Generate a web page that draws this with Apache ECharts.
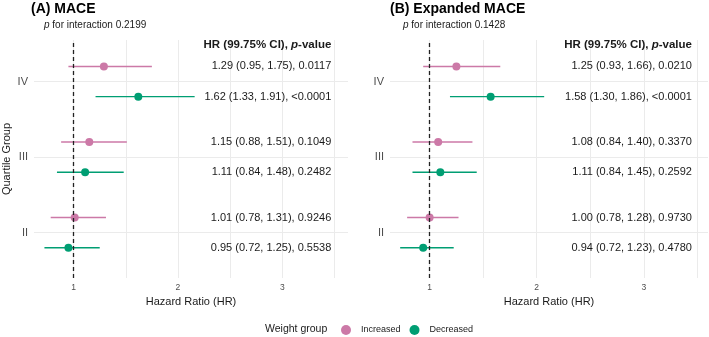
<!DOCTYPE html>
<html>
<head>
<meta charset="utf-8">
<script src="https://cdn.jsdelivr.net/npm/echarts@6/dist/echarts.min.js"></script>
<style>
html, body { margin: 0; padding: 0; background: #fff; }
#main { width: 709px; height: 337px; }
</style>
</head>
<body>
<div id="main"></div>
<script>
// quartile groups on the y axis, II at the bottom
var quartiles = ['II', 'III', 'IV'];
var quartilePos = [1, 2, 3];
var groups = ['Increased', 'Decreased'];

// (A) MACE  -- HR / plotted interval / printed text
var maceIncHR = [1.01, 1.15, 1.29];
var maceIncLo = [0.78, 0.88, 0.95];
var maceIncHi = [1.31, 1.51, 1.75];
var maceIncText = ['1.01 (0.78, 1.31), 0.9246', '1.15 (0.88, 1.51), 0.1049', '1.29 (0.95, 1.75), 0.0117'];
var maceDecHR = [0.95, 1.11, 1.62];
var maceDecLo = [0.72, 0.84, 1.21];
var maceDecHi = [1.25, 1.48, 2.16];
var maceDecText = ['0.95 (0.72, 1.25), 0.5538', '1.11 (0.84, 1.48), 0.2482', '1.62 (1.33, 1.91), <0.0001'];

// (B) Expanded MACE
var expIncHR = [1.00, 1.08, 1.25];
var expIncLo = [0.79, 0.84, 0.94];
var expIncHi = [1.27, 1.40, 1.66];
var expIncText = ['1.00 (0.78, 1.28), 0.9730', '1.08 (0.84, 1.40), 0.3370', '1.25 (0.93, 1.66), 0.0210'];
var expDecHR = [0.94, 1.10, 1.57];
var expDecLo = [0.725, 0.84, 1.19];
var expDecHi = [1.225, 1.44, 2.07];
var expDecText = ['0.94 (0.72, 1.23), 0.4780', '1.11 (0.84, 1.45), 0.2592', '1.58 (1.30, 1.86), <0.0001'];

var xLabelValues = [1, 2, 3];
var xGridValues = [1, 1.5, 2, 2.5, 3, 3.5];

var colors = { Increased: '#CC79A7', Decreased: '#009E73' };
var dodge = { Increased: 0.2, Decreased: -0.2 };
var FONT = '"Liberation Sans", Arial, sans-serif';

var chart = echarts.init(document.getElementById('main'));

function errRender(params, api) {
    var y = api.value(0);
    var a = api.coord([api.value(1), y]);
    var b = api.coord([api.value(2), y]);
    return {
        type: 'line',
        shape: { x1: a[0], y1: a[1], x2: b[0], y2: b[1] },
        style: { stroke: api.visual('color'), lineWidth: 1.4 }
    };
}

// one panel = errorbars + points + printed text for both groups
function panelSeries(idx, sets, textX) {
    var out = [];
    sets.forEach(function (s) {
        var off = dodge[s.group];
        out.push({
            type: 'custom', name: s.group, xAxisIndex: idx, yAxisIndex: idx,
            itemStyle: { color: colors[s.group] },
            renderItem: errRender,
            encode: { x: [1, 2], y: 0 },
            data: quartilePos.map(function (q, i) { return [q + off, s.lo[i], s.hi[i]]; }),
            silent: true, z: 2
        });
        out.push({
            type: 'scatter', name: s.group, xAxisIndex: idx, yAxisIndex: idx,
            symbol: 'circle', symbolSize: 8,
            itemStyle: { color: colors[s.group], opacity: 1 },
            data: quartilePos.map(function (q, i) { return [s.hr[i], q + off]; }),
            z: 3
        });
        out.push({
            type: 'custom', xAxisIndex: idx, yAxisIndex: idx,
            renderItem: function (params, api) {
                var p = api.coord([textX, api.value(1)]);
                return {
                    type: 'text', x: p[0], y: p[1],
                    style: {
                        text: s.text[params.dataIndex], align: 'right', verticalAlign: 'middle',
                        fill: '#1a1a1a', fontSize: 11, fontFamily: FONT
                    }
                };
            },
            data: quartilePos.map(function (q) { return [textX, q + off]; }),
            silent: true, z: 4
        });
    });
    // header above the text column
    out.push({
        type: 'custom', xAxisIndex: idx, yAxisIndex: idx,
        renderItem: function (params, api) {
            var p = api.coord([api.value(0), api.value(1)]);
            return {
                type: 'text', x: p[0], y: p[1],
                style: {
                    text: 'HR (99.75% CI), {i|p}-value', align: 'right', verticalAlign: 'middle',
                    fill: '#1a1a1a', fontSize: 11.5, fontWeight: 'bold', fontFamily: FONT,
                    rich: { i: { fontStyle: 'italic', fontWeight: 'bold', fontSize: 11.5, fontFamily: FONT, fill: '#1a1a1a' } }
                }
            };
        },
        data: [[textX, 3.49]],
        silent: true, z: 4
    });
    // reference line at HR = 1
    out.push({
        type: 'scatter', xAxisIndex: idx, yAxisIndex: idx, data: [], silent: true,
        markLine: {
            silent: true, symbol: ['none', 'none'], label: { show: false },
            lineStyle: { color: '#222', type: [4, 3], width: 1.3 },
            data: [{ xAxis: 1 }]
        },
        z: 1
    });
    return out;
}

function xAxisOf(idx, min, max) {
    return {
        gridIndex: idx, type: 'value', min: min, max: max,
        axisLine: { show: false },
        axisTick: { show: false, customValues: xGridValues },
        axisLabel: { customValues: xLabelValues, color: '#4d4d4d', fontSize: 8.5, margin: 5, fontFamily: FONT },
        splitLine: { show: true, lineStyle: { color: '#ebebeb', width: 1 } },
        name: 'Hazard Ratio (HR)', nameLocation: 'middle', nameGap: 15,
        nameTextStyle: { color: '#1a1a1a', fontSize: 11, fontFamily: FONT }
    };
}

function yAxisOf(idx, name) {
    return {
        gridIndex: idx, type: 'value', min: 0.4, max: 3.55,
        axisLine: { show: false },
        axisTick: { show: false, customValues: quartilePos },
        axisLabel: {
            customValues: quartilePos, color: '#4d4d4d', fontSize: 11, margin: 6, fontFamily: FONT,
            formatter: function (v) { return quartiles[quartilePos.indexOf(v)]; }
        },
        splitLine: { show: true, lineStyle: { color: '#ebebeb', width: 1 } },
        name: name, nameLocation: 'middle', nameGap: 22,
        nameTextStyle: { color: '#1a1a1a', fontSize: 11, fontFamily: FONT }
    };
}

var series = [].concat(
    panelSeries(0, [
        { group: 'Increased', hr: maceIncHR, lo: maceIncLo, hi: maceIncHi, text: maceIncText },
        { group: 'Decreased', hr: maceDecHR, lo: maceDecLo, hi: maceDecHi, text: maceDecText }
    ], 3.47),
    panelSeries(1, [
        { group: 'Increased', hr: expIncHR, lo: expIncLo, hi: expIncHi, text: expIncText },
        { group: 'Decreased', hr: expDecHR, lo: expDecLo, hi: expDecHi, text: expDecText }
    ], 3.45)
);

var option = {
    animation: false,
    textStyle: { fontFamily: FONT },
    grid: [
        { left: 32, right: 361, top: 40, bottom: 59 },
        { left: 390, right: 1, top: 40, bottom: 59 }
    ],
    xAxis: [xAxisOf(0, 0.62, 3.63), xAxisOf(1, 0.63, 3.6)],
    yAxis: [yAxisOf(0, 'Quartile Group'), yAxisOf(1, '')],
    legend: {
        data: groups, left: 336, top: 320, icon: 'circle',
        itemWidth: 10, itemHeight: 10, itemGap: 9,
        textStyle: { color: '#1a1a1a', fontSize: 9, fontFamily: FONT, padding: [0, 0, 0, 5] }
    },
    graphic: [
        { type: 'text', left: 31, top: 2, style: { text: '(A) MACE', fontSize: 14, fontWeight: 'bold', fill: '#000', fontFamily: FONT } },
        { type: 'text', left: 390, top: 2, style: { text: '(B) Expanded MACE', fontSize: 14, fontWeight: 'bold', fill: '#000', fontFamily: FONT } },
        { type: 'text', left: 44, top: 20, style: { text: '{i|p} for interaction 0.2199', fontSize: 10, fill: '#1a1a1a', fontFamily: FONT, rich: { i: { fontStyle: 'italic', fontSize: 10, fontFamily: FONT } } } },
        { type: 'text', left: 403, top: 20, style: { text: '{i|p} for interaction 0.1428', fontSize: 10, fill: '#1a1a1a', fontFamily: FONT, rich: { i: { fontStyle: 'italic', fontSize: 10, fontFamily: FONT } } } },
        { type: 'text', left: 265, top: 324, style: { text: 'Weight group', fontSize: 10.5, fill: '#1a1a1a', fontFamily: FONT } }
    ],
    series: series
};

chart.setOption(option);
</script>
</body>
</html>
